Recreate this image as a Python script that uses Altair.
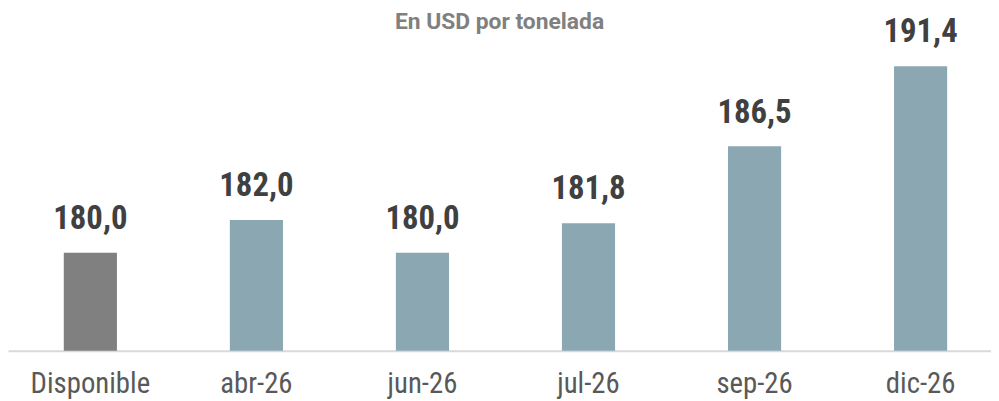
import altair as alt
import pandas as pd

categories = ["Disponible", "abr-26", "jun-26", "jul-26", "sep-26", "dic-26"]
values = [180.0, 182.0, 180.0, 181.8, 186.5, 191.4]
kinds = ["spot", "futuro", "futuro", "futuro", "futuro", "futuro"]

df = pd.DataFrame({"cat": categories, "v": values, "kind": kinds})

FONT = "Liberation Sans Narrow, Roboto Condensed, Roboto, sans-serif"

x = alt.X("cat:N", sort=categories, title=None,
          scale=alt.Scale(paddingInner=0.68, paddingOuter=0.3, align=0.56),
          axis=alt.Axis(labelAngle=0, labelFontSize=29, labelColor="#595959",
                        labelFont=FONT, labelPadding=19,
                        ticks=False, domainColor="#d9d9d9", domainWidth=2, grid=False))
y = alt.Y("v:Q", title=None, scale=alt.Scale(domain=[174, 194.86], zero=False, nice=False),
          axis=None)

base = alt.Chart(df).encode(x=x, y=y)

bars = base.mark_bar(clip=True).encode(
    color=alt.Color("kind:N", scale=alt.Scale(domain=["spot", "futuro"],
                                              range=["#808080", "#8BA7B2"]), legend=None)
)

labels = base.transform_calculate(
    lab="replace(format(datum.v, '.1f'), '.', ',')"
).mark_text(dy=-24, baseline="alphabetic", fontSize=33, fontWeight="bold",
            color="#404040", font=FONT).encode(text="lab:N")

chart = (bars + labels).properties(
    width=991, height=344,
    title=alt.TitleParams("En USD por tonelada", fontSize=23, fontWeight="bold",
                          color="#808080", font="Roboto, sans-serif", anchor="middle",
                          offset=-43, baseline="alphabetic"),
    padding=0
).configure_view(stroke=None)

chart.save("out.html", embed_options={"renderer": "svg", "actions": False})
